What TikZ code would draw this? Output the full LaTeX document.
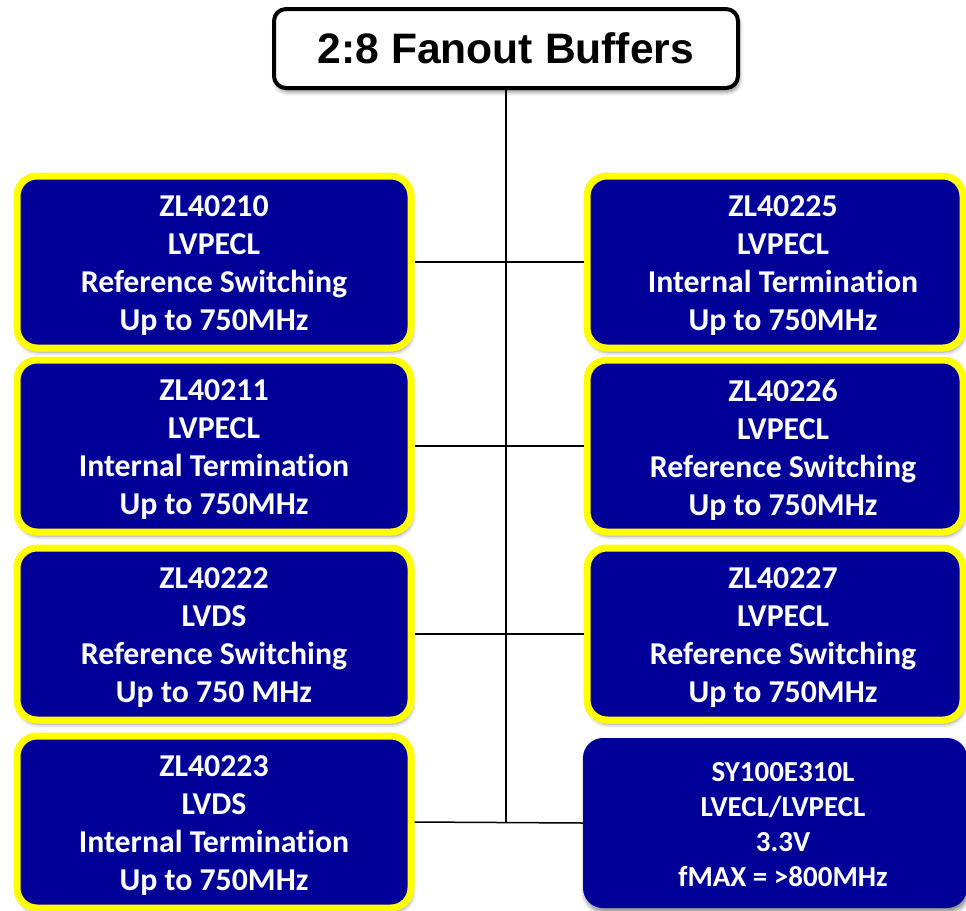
\documentclass[tikz,border=0pt]{standalone}
\usepackage{fontspec}
\setmainfont{Liberation Sans}
\newfontfamily\calfont{Carlito}[Ligatures={NoCommon}]
\usetikzlibrary{shadows.blur}
\definecolor{boxblue}{RGB}{0,0,153}
\definecolor{boxyellow}{RGB}{255,255,0}
\begin{document}
\begin{tikzpicture}[x=1pt,y=-1pt,
  shade/.style={blur shadow={shadow xshift=1.5pt,shadow yshift=-4pt,shadow blur radius=4pt,shadow opacity=45}},
  titlebox/.style={draw=black,line width=4pt,fill=white,rounded corners=12pt,minimum width=464pt,minimum height=79pt,inner sep=0pt,shade,font=\fontsize{42.6}{48}\selectfont\bfseries},
  partbox/.style={draw=boxyellow,line width=7pt,fill=boxblue,rounded corners=20pt,minimum height=172pt,inner sep=0pt,shade},
  leftbox/.style={partbox,minimum width=394pt},
  rightbox/.style={partbox,minimum width=376pt},
  plainbox/.style={fill=boxblue,rounded corners=20pt,minimum width=384pt,minimum height=170pt,inner sep=0pt,shade},
  boxtext/.style={text=white,align=center,inner sep=0pt,font=\calfont\bfseries\fontsize{31.8}{38}\selectfont},
  smalltext/.style={boxtext,font=\calfont\bfseries\fontsize{29}{35}\selectfont},
  link/.style={draw=black,line width=1.5pt}
]
\useasboundingbox (0,0) rectangle (966,910);

\node[titlebox] (T) at (506,48.5) {2:8 Fanout Buffers};

\node[leftbox] (L1) at (214,262) {};
\node[leftbox] (L2) at (214,446) {};
\node[leftbox] (L3) at (214,634) {};
\node[leftbox] (L4) at (214,822) {};

\node[rightbox] (R1) at (775,262) {};
\node[rightbox] (R2) at (775,446) {};
\node[rightbox] (R3) at (775,634) {};
\node[plainbox] (R4) at (775,823) {};

\node[boxtext] (tL1) at (214,266) {ZL40210\\LVPECL\\Reference Switching\\Up to 750MHz};
\node[boxtext] (tL2) at (214,450) {ZL40211\\LVPECL\\Internal Termination\\Up to 750MHz};
\node[boxtext] (tL3) at (214,638) {ZL40222\\LVDS\\Reference Switching\\Up to 750 MHz};
\node[boxtext] (tL4) at (214,826) {ZL40223\\LVDS\\Internal Termination\\Up to 750MHz};

\node[boxtext] (tR1) at (783,266) {ZL40225\\LVPECL\\Internal Termination\\Up to 750MHz};
\node[boxtext] (tR2) at (783,450) {ZL40226\\LVPECL\\Reference Switching\\Up to 750MHz};
\node[boxtext] (tR3) at (783,638) {ZL40227\\LVPECL\\Reference Switching\\Up to 750MHz};
\node[smalltext] (tR4) at (783,825) {SY100E310L\\LVECL/LVPECL\\3.3V\\fMAX = >800MHz};

\coordinate (bottom) at (T.south |- L4.east);
\draw[link] (T.south) -- (bottom);
\draw[link] (L1.east) -- (R1.west);
\draw[link] (L2.east) -- (R2.west);
\draw[link] (L3.east) -- (R3.west);
\draw[link] (L4.east) -- (R4.west);
\end{tikzpicture}
\end{document}
